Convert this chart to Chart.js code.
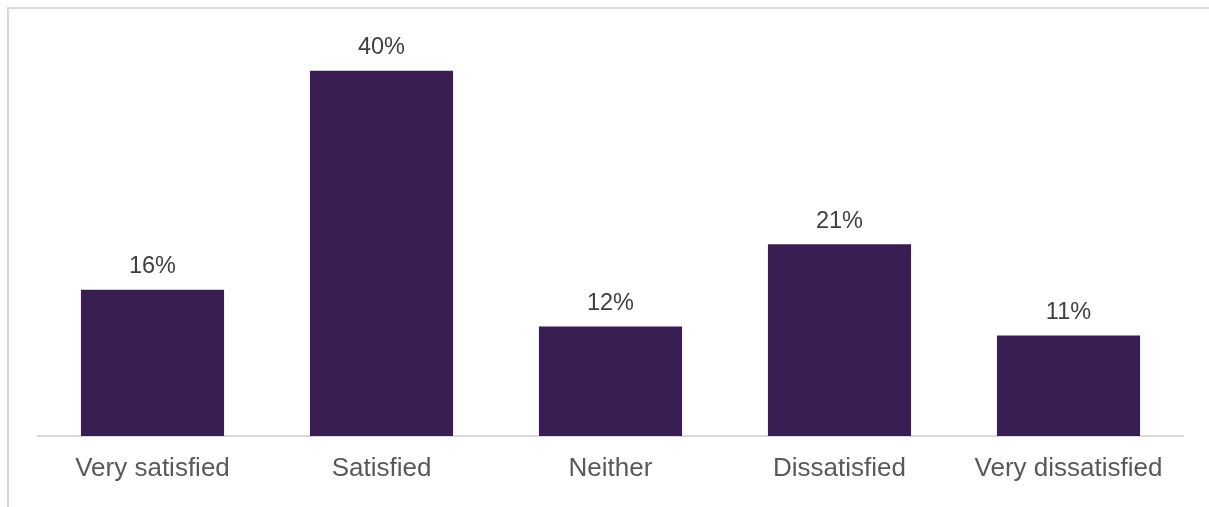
<!DOCTYPE html>
<html>
<head>
<meta charset="utf-8">
<script src="https://cdn.jsdelivr.net/npm/chart.js@4/dist/chart.umd.min.js"></script>
<style>
  html, body { margin: 0; padding: 0; background: #fff; }
  #wrap { position: relative; width: 1209px; height: 507px; }
  #frame {
    position: absolute; left: 7px; top: 7px; right: 0; bottom: 0;
    border-top: 2px solid #d9d9d9; border-left: 2px solid #d9d9d9;
  }
  canvas { position: absolute; left: 0; top: 0; }
</style>
</head>
<body>
<div id="wrap">
  <div id="frame"></div>
  <canvas id="chart" width="1209" height="507"></canvas>
</div>
<script>
// satisfaction answers and their shares (%)
const categories = ['Very satisfied', 'Satisfied', 'Neither', 'Dissatisfied', 'Very dissatisfied'];
const shares = [16, 40, 12, 21, 11];

const barColor = '#381e52';
const fontFamily = '"Liberation Sans", Arial, sans-serif';

// draws the "xx%" above each bar
const valueLabels = {
    id: 'valueLabels',
    afterDatasetsDraw(chart) {
        const ctx = chart.ctx;
        const meta = chart.getDatasetMeta(0);
        ctx.save();
        ctx.font = '23.5px ' + fontFamily;
        ctx.fillStyle = '#404040';
        ctx.textAlign = 'center';
        ctx.textBaseline = 'alphabetic';
        meta.data.forEach((bar, i) => {
            ctx.fillText(shares[i] + '%', bar.x, bar.y - 16.5);
        });
        ctx.restore();
    }
};

new Chart(document.getElementById('chart').getContext('2d'), {
    type: 'bar',
    data: {
        labels: categories,
        datasets: [{
            data: shares,
            backgroundColor: barColor,
            borderWidth: 0,
            categoryPercentage: 0.625,
            barPercentage: 1
        }]
    },
    options: {
        responsive: false,
        animation: false,
        events: [],
        layout: { padding: { left: 38, right: 26, top: 25, bottom: 0 } },
        plugins: {
            legend: { display: false },
            tooltip: { enabled: false }
        },
        scales: {
            x: {
                grid: { display: false, drawTicks: false },
                border: { display: true, color: '#d9d9d9', width: 2 },
                ticks: {
                    color: '#595959',
                    font: { family: fontFamily, size: 26 },
                    padding: 17,
                    maxRotation: 0,
                    autoSkip: false
                },
                afterFit(scale) { scale.height = 71; }
            },
            y: {
                display: false,
                min: 0,
                max: 45
            }
        }
    },
    plugins: [valueLabels]
});
</script>
</body>
</html>
